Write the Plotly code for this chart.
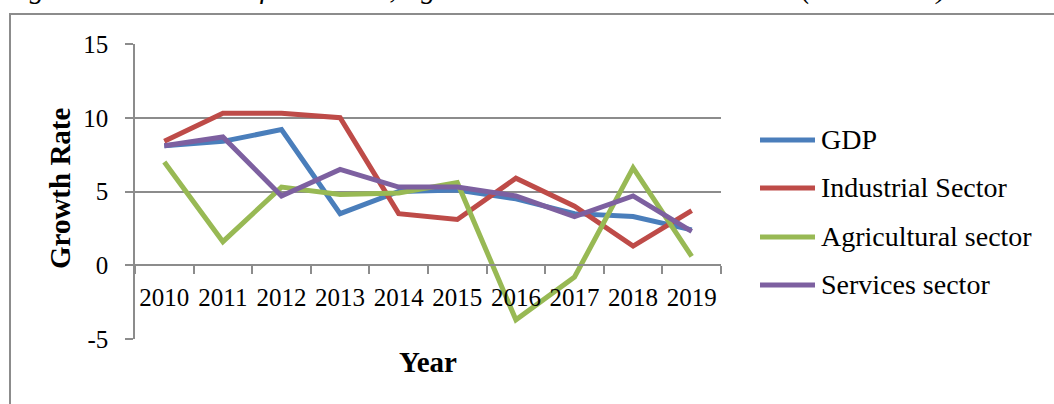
import plotly.graph_objects as go

# Growth rates by sector, 2010-2019
years = ["2010", "2011", "2012", "2013", "2014", "2015", "2016", "2017", "2018", "2019"]
gdp = [8.1, 8.4, 9.2, 3.5, 5.0, 5.1, 4.5, 3.5, 3.3, 2.4]
industrial = [8.4, 10.3, 10.3, 10.0, 3.5, 3.1, 5.9, 4.0, 1.3, 3.7]
agricultural = [7.0, 1.6, 5.3, 4.8, 4.9, 5.6, -3.7, -0.8, 6.6, 0.6]
services = [8.1, 8.7, 4.7, 6.5, 5.3, 5.3, 4.7, 3.3, 4.7, 2.3]

series_names = ["GDP", "Industrial Sector", "Agricultural sector", "Services sector"]
series_values = [gdp, industrial, agricultural, services]
series_colors = ["#4A7EBB", "#BE4B48", "#98B954", "#7D60A0"]

y_ticks = [-5, 0, 5, 10, 15]
y_tick_labels = ["-5", "0", "5", "10", "15"]

caption = "Figure 1: Behaviors of Industrial, Agricultural and Services Sectors (2010-2019)"

SERIF = "Liberation Serif"
GRID = "#8C8C8C"

fig = go.Figure()
for name, vals, col in zip(series_names, series_values, series_colors):
    fig.add_trace(go.Scatter(
        x=years, y=vals, name=name, mode="lines",
        line=dict(color=col, width=5),
        showlegend=False,
    ))

W, H = 1054, 404
L, R, T, B = 135, 333, 44, 65
pw, ph = W - L - R, H - T - B


def px_x(p):
    return (p - L) / pw


def px_y(p):
    return (H - B - p) / ph


fig.update_layout(
    width=W, height=H,
    margin=dict(l=L, r=R, t=T, b=B),
    paper_bgcolor="white", plot_bgcolor="white",
    font=dict(family=SERIF, color="black"),
    xaxis=dict(
        type="category",
        range=[-0.5, 9.5],
        anchor="free", position=0.25,
        showline=True, linecolor=GRID, linewidth=1.5,
        showgrid=False, zeroline=False,
        ticks="outside", tickson="boundaries", ticklen=8, tickcolor=GRID, tickwidth=1.5,
        tickangle=0,
        tickfont=dict(family=SERIF, size=25, color="black"),
        ticklabelstandoff=10,
    ),
    yaxis=dict(
        range=[-5, 15],
        tickvals=y_ticks, ticktext=y_tick_labels,
        showline=True, linecolor=GRID, linewidth=1.5,
        showgrid=True, gridcolor=GRID, gridwidth=1.5,
        zeroline=False,
        ticks="outside", ticklen=8, tickcolor=GRID, tickwidth=1.5,
        tickfont=dict(family=SERIF, size=25, color="black"),
        ticklabelstandoff=12,
    ),
)

shapes = [
    # chart frame
    dict(type="rect", xref="paper", yref="paper",
         x0=px_x(10), x1=px_x(1120), y0=px_y(460), y1=px_y(14),
         line=dict(color="#8C8C8C", width=2), fillcolor="rgba(0,0,0,0)", layer="below"),
]

annotations = [
    dict(text="<b>Growth Rate</b>", xref="paper", yref="paper",
         x=px_x(60), y=px_y(189), xanchor="center", yanchor="middle",
         textangle=-90, showarrow=False, font=dict(family=SERIF, size=29)),
    dict(text="<b>Year</b>", xref="paper", yref="paper",
         x=px_x(428), y=px_y(362), xanchor="center", yanchor="middle",
         showarrow=False, font=dict(family=SERIF, size=29)),
    dict(text="<i>" + caption + "</i>", xref="paper", yref="paper",
         x=px_x(948), y=px_y(7), xanchor="right", yanchor="bottom",
         showarrow=False, font=dict(family=SERIF, size=29)),
]

# key at the right of the plot
key_rows = [140, 188, 237, 285]
for name, col, row in zip(series_names, series_colors, key_rows):
    shapes.append(dict(type="line", xref="paper", yref="paper",
                       x0=px_x(760), x1=px_x(815), y0=px_y(row), y1=px_y(row),
                       line=dict(color=col, width=5)))
    annotations.append(dict(text=name, xref="paper", yref="paper",
                            x=px_x(819), y=px_y(row - 1), xanchor="left", yanchor="middle",
                            showarrow=False, font=dict(family=SERIF, size=28)))

fig.update_layout(shapes=shapes, annotations=annotations)

fig.write_html("out.html")
